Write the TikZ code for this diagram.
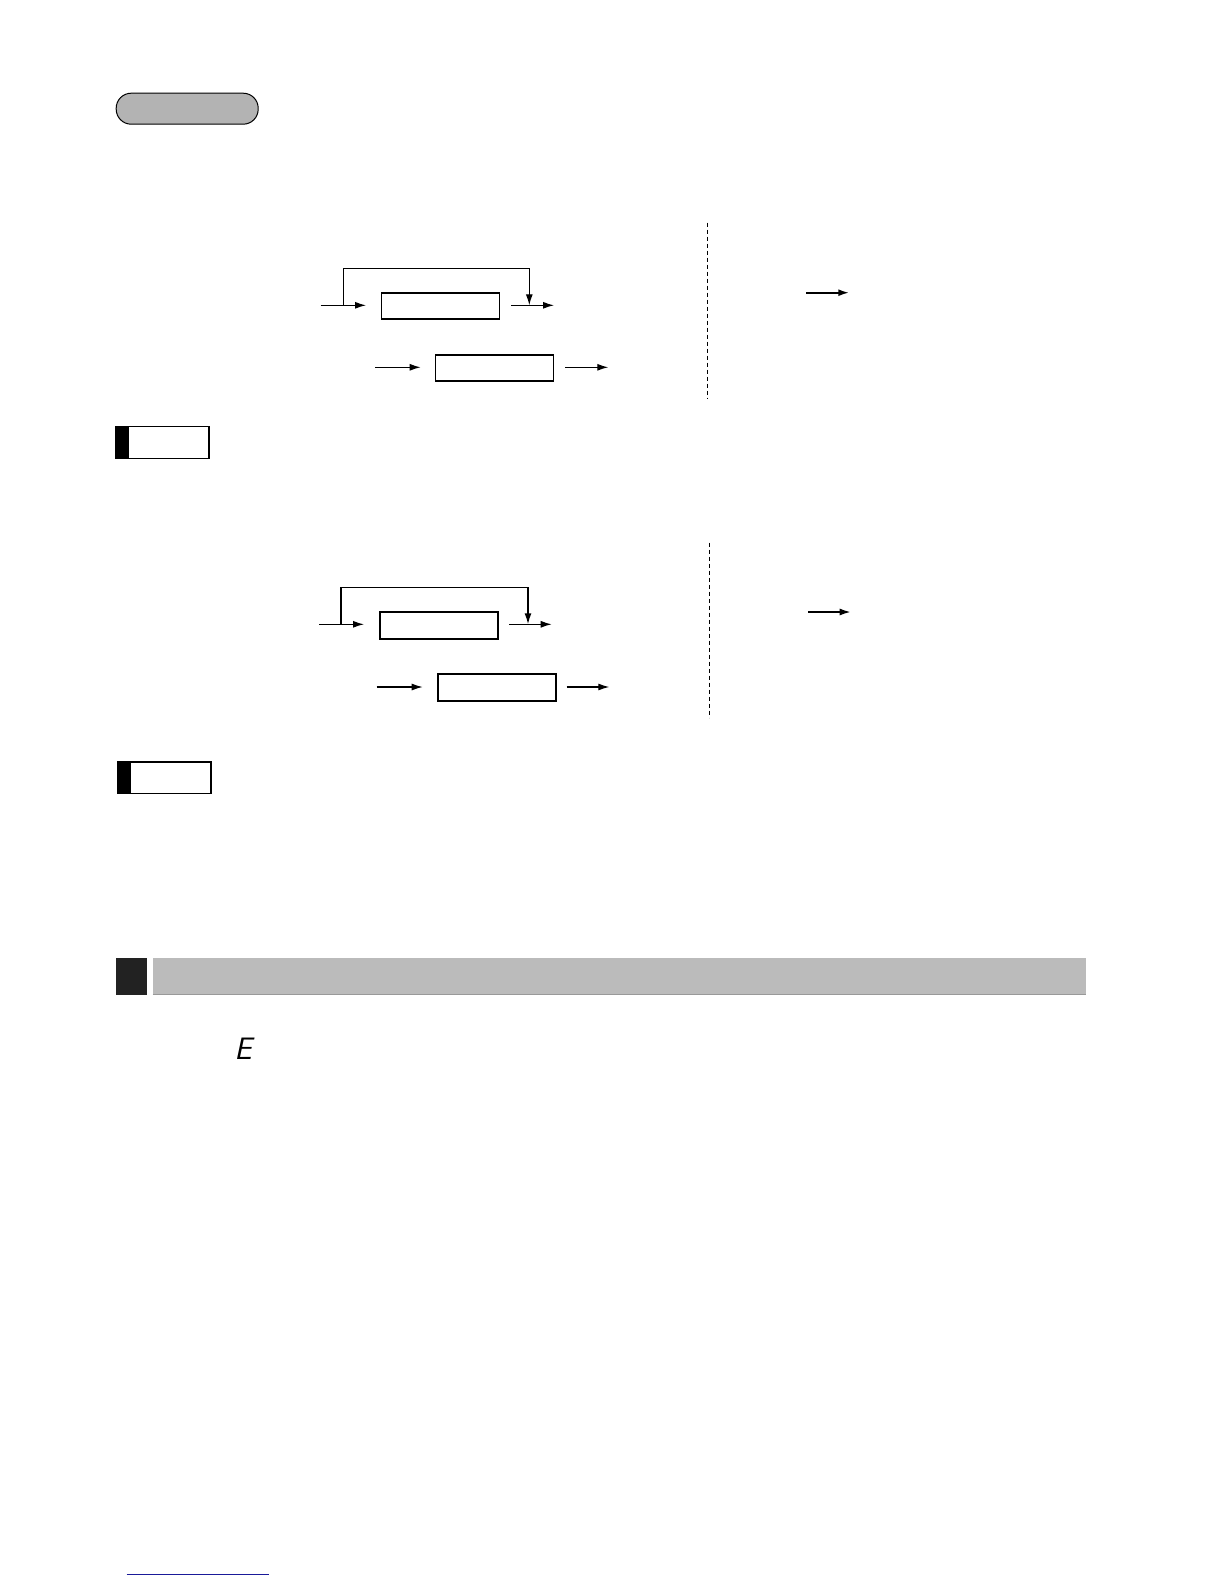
\documentclass[tikz,border=0pt]{standalone}
\usetikzlibrary{arrows.meta}
\definecolor{pillgray}{HTML}{B3B3B3}
\definecolor{bargray}{HTML}{BBBBBB}
\definecolor{bardark}{HTML}{222222}
\definecolor{linkblue}{HTML}{1A1A99}
\begin{document}
\begin{tikzpicture}[x=1pt,y=-1pt,
  flowbox/.style={draw,line width=1.3pt,minimum width=118pt,minimum height=26pt,inner sep=0pt,anchor=north west},
  flowarrow/.style={line width=1.2pt,-{Latex[length=11pt,width=7pt]}},
  looparrow/.style={line width=1.2pt,-{Latex[length=11pt,width=7pt]}},
  sidearrow/.style={line width=2pt,-{Latex[length=11pt,width=7pt]}},
  divider/.style={line width=1pt,dash pattern=on 4pt off 3pt},
  notebox/.style={draw,line width=1.2pt,minimum width=93pt,minimum height=31.5pt,inner sep=0pt,anchor=north west}]
\useasboundingbox (0,0) rectangle (1224,1584);
% header pill
\node[draw,line width=1pt,fill=pillgray,rounded corners=15pt,minimum width=142pt,minimum height=31pt,inner sep=0pt,anchor=north west] (pill) at (115.7,92.7) {};
% ---------- diagram 1 ----------
\node[flowbox] (boxA) at (380.7,292.3) {};
\node[flowbox] (boxB) at (435,354.3) {};
\coordinate (a1in) at (320.7,305.3);
\coordinate (a1end) at (366,305.3);
\coordinate (a1loopL) at (343.3,305.3);
\coordinate (a1loopR) at (529.3,305.3);
\coordinate (a1out) at (511,305.3);
\coordinate (a1outend) at (554,305.3);
\draw[flowarrow] (a1in) -- (a1end);
\draw[looparrow] (a1loopL) |- (343.3,268.3) -| (a1loopR);
\draw[flowarrow] (a1out) -- (a1outend);
\coordinate (b1in) at (375,367.3);
\coordinate (b1end) at (420.7,367.3);
\coordinate (b1out) at (565,367.3);
\coordinate (b1outend) at (608.3,367.3);
\draw[flowarrow] (b1in) -- (b1end);
\draw[flowarrow] (b1out) -- (b1outend);
\coordinate (d1top) at (707.3,222.7);
\coordinate (d1bot) at (707.3,399);
\draw[divider] (d1top) -- (d1bot);
\coordinate (s1a) at (806,292.7);
\coordinate (s1b) at (849.3,292.7);
\draw[sidearrow] (s1a) -- (s1b);
% note box 1
\node[notebox] (note1) at (115.3,426) {};
\fill (note1.north west) rectangle (128.7,457.7);
% ---------- diagram 2 ----------
\node[flowbox,minimum height=27pt] (boxC) at (379.3,611.3) {};
\node[flowbox,minimum height=27pt] (boxD) at (437.3,673.3) {};
\coordinate (a2in) at (319,624.3);
\coordinate (a2end) at (364,624.3);
\coordinate (a2loopL) at (341,624.3);
\coordinate (a2loopR) at (528,624.3);
\coordinate (a2out) at (509,624.3);
\coordinate (a2outend) at (551.7,624.3);
\draw[flowarrow] (a2in) -- (a2end);
\draw[looparrow,line width=1.5pt] (a2loopL) |- (341,587.3) -| (a2loopR);
\draw[flowarrow] (a2out) -- (a2outend);
\coordinate (b2in) at (376.7,687);
\coordinate (b2end) at (422.7,687);
\coordinate (b2out) at (566.7,687);
\coordinate (b2outend) at (609.3,687);
\draw[flowarrow] (b2in) -- (b2end);
\draw[flowarrow] (b2out) -- (b2outend);
\coordinate (d2top) at (709.3,542.7);
\coordinate (d2bot) at (709.3,717.7);
\draw[divider] (d2top) -- (d2bot);
\coordinate (s2a) at (808.3,612);
\coordinate (s2b) at (850.7,612);
\draw[flowarrow,line width=1.6pt] (s2a) -- (s2b);
% note box 2
\node[notebox] (note2) at (117.3,761.3) {};
\fill (note2.north west) rectangle (131,792.7);
% ---------- section bar ----------
\node[fill=bardark,minimum width=30.7pt,minimum height=37.3pt,inner sep=0pt,anchor=north west] (secmark) at (116,957.7) {};
\node[fill=bargray,minimum width=933.3pt,minimum height=36.3pt,inner sep=0pt,anchor=north west] (secbar) at (152.7,957.7) {};
\draw[line width=0.8pt,color=black!40] (secbar.south west) -- (secbar.south east);
% segment E
\node[font=\sffamily\slshape\fontsize{31}{31}\selectfont,inner sep=0pt,anchor=base] (segE) at (243,1059) {E};
% footer line
\coordinate (footL) at (126.7,1574.7);
\coordinate (footR) at (269,1574.7);
\draw[line width=1.2pt,color=linkblue] (footL) -- (footR);
\end{tikzpicture}
\end{document}
